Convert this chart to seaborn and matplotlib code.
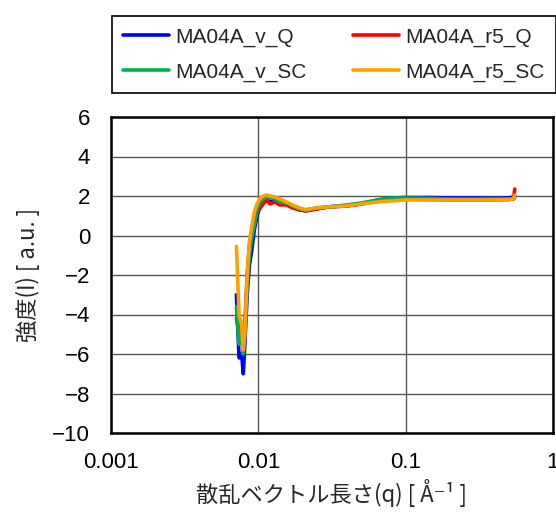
import numpy as np
import pandas as pd
import matplotlib
matplotlib.use("Agg")
import matplotlib.pyplot as plt
import seaborn as sns
from matplotlib.lines import Line2D

sns.set_style("white")
plt.rcParams['font.family'] = ['Liberation Sans', 'Noto Sans CJK JP', 'DejaVu Sans']
plt.rcParams['axes.unicode_minus'] = True

q = [0.0071, 0.0074, 0.0077, 0.0079, 0.0081, 0.0084, 0.0087, 0.009, 0.0094, 0.0098,
     0.0103, 0.0108, 0.0114, 0.012, 0.013, 0.014, 0.0155, 0.017, 0.019, 0.021,
     0.025, 0.03, 0.04, 0.05, 0.065, 0.08, 0.1, 0.15, 0.2, 0.3, 0.4, 0.5, 0.54, 0.55]

v_Q = [-3.0, -6.2, -6.0, -7.0, -5.5, -3.0, -1.5, -0.8, 0.3, 1.0,
       1.5, 1.7, 1.85, 1.7, 1.8, 1.6, 1.6, 1.45, 1.3, 1.25,
       1.35, 1.45, 1.5, 1.6, 1.8, 1.9, 1.92, 1.92, 1.9, 1.9, 1.88, 1.9, 1.95, 2.0]
r5_Q = [-4.2, -5.0, -4.5, -6.0, -4.5, -2.0, -0.5, 0.0, 0.5, 1.2,
        1.4, 1.6, 1.8, 1.6, 1.7, 1.55, 1.55, 1.4, 1.3, 1.25,
        1.35, 1.45, 1.5, 1.6, 1.75, 1.85, 1.85, 1.82, 1.8, 1.8, 1.8, 1.82, 1.85, 2.35]
v_SC = [-3.6, -5.5, -5.0, -6.0, -4.8, -2.5, -1.0, -0.2, 0.6, 1.3,
        1.7, 1.85, 1.95, 1.9, 1.85, 1.7, 1.65, 1.5, 1.35, 1.3,
        1.4, 1.45, 1.55, 1.65, 1.8, 1.9, 1.9, 1.88, 1.85, 1.85, 1.85, 1.85, 1.85, 1.9]
r5_SC = [-0.55, -4.0, -4.5, -5.8, -5.0, -2.0, -0.3, 0.4, 1.2, 1.6,
         1.9, 2.0, 2.05, 2.0, 1.95, 1.85, 1.7, 1.55, 1.4, 1.3,
         1.4, 1.45, 1.5, 1.6, 1.7, 1.75, 1.8, 1.8, 1.8, 1.8, 1.8, 1.82, 1.85, 2.05]

names = ['MA04A_v_Q', 'MA04A_r5_Q', 'MA04A_v_SC', 'MA04A_r5_SC']
series = [v_Q, r5_Q, v_SC, r5_SC]
colors = ['#0000ff', '#ff0000', '#00b050', '#ffa000']
xtick_labels = ['0.001', '0.01', '0.1', '1']

rows = []
for n, s in zip(names, series):
    for x, y in zip(q, s):
        rows.append((n, x, y))
df = pd.DataFrame(rows, columns=['series', 'q', 'I'])

fig = plt.figure(figsize=(5.56, 5.13), dpi=100)
ax = fig.add_axes([111/556, 1-433/513, 442/556, 316/513])

sns.lineplot(data=df, x='q', y='I', hue='series', hue_order=names,
             palette=colors, estimator=None, sort=False, linewidth=2.6, ax=ax,
             legend=False)

ax.set_xscale('log')
ax.set_xlim(0.001, 1)
ax.set_ylim(-10, 6)
ax.set_yticks(np.arange(-10, 7, 2))
ax.set_xticks([0.001, 0.01, 0.1, 1])
ax.set_xticklabels(xtick_labels)
ax.xaxis.set_minor_locator(matplotlib.ticker.NullLocator())
ax.grid(True, which='major', color='#555555', linewidth=1.0)
ax.set_axisbelow(True)
for sp in ax.spines.values():
    sp.set_color('black')
    sp.set_linewidth(1.8)
ax.tick_params(axis='both', length=0, labelsize=16, colors='black')
ax.tick_params(axis='x', pad=14)
ax.tick_params(axis='y', pad=15)
ax.set_xlabel('散乱ベクトル長さ(q) [ Å⁻¹ ]', fontsize=16, labelpad=4,
              family=['Noto Sans CJK JP', 'DejaVu Sans'])
ax.set_ylabel('強度(I) [ a.u. ]', fontsize=16, labelpad=9,
              family=['Noto Sans CJK JP', 'DejaVu Sans'])

# legend rows: (v_Q, r5_Q) / (v_SC, r5_SC); matplotlib fills column-first
order = [0, 2, 1, 3]
handles = [Line2D([0], [0], color=colors[i], linewidth=2.6) for i in order]
labels = [names[i] for i in order]
leg = fig.legend(handles, labels, loc='upper left', ncol=2,
                 bbox_to_anchor=(112/556, 1-16/513), frameon=True, fancybox=False,
                 edgecolor='black', framealpha=1, fontsize=15, handlelength=2.2,
                 columnspacing=2.2, handletextpad=0.3, borderpad=0.55,
                 labelspacing=0.75, borderaxespad=0)
leg.get_frame().set_linewidth(1.2)

fig.savefig('out.png', dpi=100)
